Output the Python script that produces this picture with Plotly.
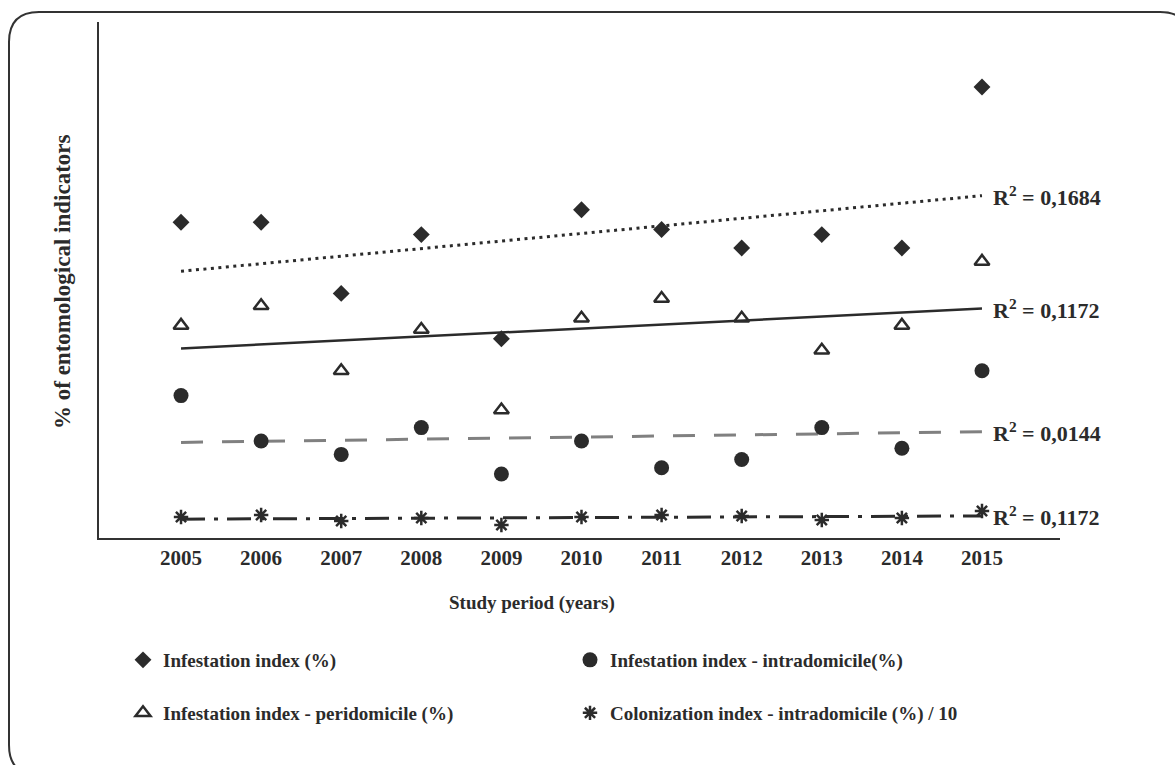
import numpy as np
import plotly.graph_objects as go

years = [2005, 2006, 2007, 2008, 2009, 2010, 2011, 2012, 2013, 2014, 2015]
infestation = [30.6, 30.6, 23.7, 29.4, 19.3, 31.8, 29.9, 28.1, 29.4, 28.1, 43.7]
intradomicile = [13.8, 9.4, 8.1, 10.7, 6.2, 9.4, 6.8, 7.6, 10.7, 8.7, 16.2]
peridomicile = [20.6, 22.5, 16.2, 20.2, 12.4, 21.3, 23.2, 21.3, 18.2, 20.6, 26.8]
colonization = [2.03, 2.23, 1.65, 1.94, 1.26, 2.03, 2.23, 2.13, 1.74, 1.94, 2.62]
r2_labels = ["0,1684", "0,0144", "0,1172", "0,1172"]

W, H = 1175, 765
ML, MR, MT, MB = 99, 115, 22, 227
PW, PH = W - ML - MR, H - MT - MB


def px(x):
    return (x - ML) / PW


def py(y):
    return (H - MB - y) / PH


FONT = "Liberation Serif"
INK = "#2b2b2b"

fig = go.Figure()

series = [
    ("Infestation index (%)", infestation, dict(symbol="diamond", size=13, color=INK), "legend"),
    ("Infestation index - intradomicile(%)", intradomicile, dict(symbol="circle", size=15, color=INK), "legend"),
    ("Infestation index - peridomicile (%)", peridomicile,
     dict(symbol="triangle-up-open", size=13, color=INK, line=dict(width=2.5, color=INK)), "legend2"),
    ("Colonization index - intradomicile (%) / 10", colonization,
     dict(symbol="asterisk-open", size=12, color=INK, line=dict(width=2.5, color=INK)), "legend2"),
]
trend_styles = [
    dict(color=INK, width=3, dash="3px,4.5px"),
    dict(color="#808080", width=3, dash="22px,19px"),
    dict(color=INK, width=2.5, dash="solid"),
    dict(color=INK, width=3, dash="24px,9px,4px,9px"),
]

xs = np.array(years, dtype=float)
for (name, vals, mk, lg), ts, r2 in zip(series, trend_styles, r2_labels):
    a, b = np.polyfit(xs, np.array(vals), 1)
    ty = a * xs + b
    fig.add_trace(go.Scatter(x=years, y=list(ty), mode="lines", line=ts,
                             showlegend=False, hoverinfo="skip"))
    fig.add_annotation(x=years[-1], y=ty[-1], xref="x", yref="y", xanchor="left",
                       yanchor="middle", xshift=9, showarrow=False,
                       text="<b>R<sup>2</sup> = " + r2 + "</b>",
                       font=dict(family=FONT, size=22, color=INK))

for name, vals, mk, lg in series:
    fig.add_trace(go.Scatter(x=years, y=vals, mode="markers", marker=mk,
                             name="<b>" + name + "</b>", legend=lg))

fig.add_annotation(x=px(532), y=py(603), xref="paper", yref="paper", showarrow=False,
                   xanchor="center", yanchor="middle",
                   text="<b>Study period (years)</b>", font=dict(family=FONT, size=19, color=INK))
fig.add_annotation(x=px(62), y=py(282), xref="paper", yref="paper", showarrow=False,
                   xanchor="center", yanchor="middle",
                   textangle=-90, text="<b>% of entomological indicators</b>",
                   font=dict(family=FONT, size=23, color=INK))

# rounded frame
pts = [(9, 42), (9, 12), (39, 12), (1160, 12), (1190, 12), (1190, 42), (1190, 745),
       (1190, 775), (1160, 775), (39, 775), (9, 775), (9, 745)]
P = [(px(x), py(y)) for x, y in pts]
path = ("M {0[0]},{0[1]} Q {1[0]},{1[1]} {2[0]},{2[1]} L {3[0]},{3[1]} Q {4[0]},{4[1]} {5[0]},{5[1]} "
        "L {6[0]},{6[1]} Q {7[0]},{7[1]} {8[0]},{8[1]} L {9[0]},{9[1]} Q {10[0]},{10[1]} {11[0]},{11[1]} Z").format(*P)
fig.add_shape(type="path", path=path, xref="paper", yref="paper",
              line=dict(color="#333333", width=2))

legfont = dict(family=FONT, size=19, color=INK)
fig.update_layout(
    width=W, height=H,
    margin=dict(l=ML, r=MR, t=MT, b=MB),
    paper_bgcolor="white", plot_bgcolor="white",
    font=dict(family=FONT, color=INK),
    xaxis=dict(range=[2003.976, 2015.974], tickvals=years,
               ticktext=["<b>%d</b>" % y for y in years],
               tickfont=dict(family=FONT, size=21, color=INK),
               showgrid=False, zeroline=False, showline=True, linewidth=2,
               linecolor="#333333", ticks=""),
    yaxis=dict(range=[0, 50], showticklabels=False, showgrid=False, zeroline=False,
               showline=True, linewidth=2, linecolor="#333333", ticks=""),
    legend=dict(orientation="h", x=px(123), y=py(660), xanchor="left", yanchor="middle",
                entrywidth=402, entrywidthmode="pixels", font=legfont, bgcolor="rgba(0,0,0,0)"),
    legend2=dict(orientation="h", x=px(123), y=py(713), xanchor="left", yanchor="middle",
                 entrywidth=402, entrywidthmode="pixels", font=legfont, bgcolor="rgba(0,0,0,0)"),
)

fig.write_html("out.html", config={"displayModeBar": False},
               post_script="document.body.style.margin='0';")
